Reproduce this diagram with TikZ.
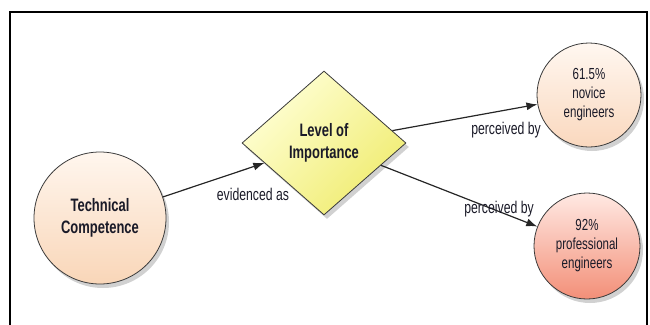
\documentclass[tikz,border=0pt]{standalone}
\usepackage{fontspec}
\setmainfont{Liberation Sans}[FakeStretch=0.72]
\usetikzlibrary{shapes.geometric,arrows.meta,shadows}
\definecolor{tcA}{HTML}{FFF6EE}
\definecolor{tcB}{HTML}{F9D6B8}
\definecolor{dmA}{HTML}{FFFFD6}
\definecolor{dmB}{HTML}{F0EC70}
\definecolor{nvA}{HTML}{FFF7F0}
\definecolor{nvB}{HTML}{FAD8BE}
\definecolor{prA}{HTML}{FFE9E3}
\definecolor{prB}{HTML}{F38F78}
\definecolor{edge}{HTML}{3A3A3A}
\definecolor{txt}{HTML}{1A1A28}
\tikzset{
  shad/.style={drop shadow={shadow xshift=3pt, shadow yshift=-4pt, opacity=0.18, fill=black}},
  bubble/.style={circle, draw=edge, line width=0.8pt, inner sep=0pt, shad, shading angle=45, text=txt, align=center},
  conn/.style={draw=black!85, line width=1.2pt, -{Latex[length=11pt,width=8pt]}},
  lbl/.style={text=txt, font=\fontsize{17}{20}\selectfont, inner sep=0pt}
}
\begin{document}
\begin{tikzpicture}[x=1pt,y=-1pt]
\useasboundingbox (0,0) rectangle (650,324);
\draw[line width=2pt, black] (10,326) -- (10,12) -- (647,12) -- (647,326);

\node[bubble, minimum size=132pt, top color=tcA, bottom color=tcB,
      font=\bfseries\fontsize{18}{22}\selectfont] (tc) at (100,218) {Technical\\Competence};
\node[diamond, draw=edge, line width=0.8pt, inner sep=0pt, minimum width=164pt, minimum height=144pt,
      shad, top color=dmA, bottom color=dmB, shading angle=45, text=txt, align=center,
      font=\bfseries\fontsize{18}{22}\selectfont] (dia) at (324,143) {Level of\\Importance};
\node[bubble, minimum size=104pt, top color=nvA, bottom color=nvB,
      font=\fontsize{16}{19}\selectfont] (nov) at (589,95) {61.5\%\\novice\\engineers};
\node[bubble, minimum size=106pt, top color=prA, bottom color=prB,
      font=\fontsize{16}{19}\selectfont] (pro) at (587,246) {92\%\\professional\\engineers};

\draw[conn] (tc) -- (dia);
\draw[conn] (dia) -- (nov);
\draw[conn] (dia) -- (pro);

\node[lbl] (l1) at (253,194) {evidenced as};
\node[lbl] (l2) at (506,130) {perceived by};
\node[lbl] (l3) at (499,209) {perceived by};
\end{tikzpicture}
\end{document}
